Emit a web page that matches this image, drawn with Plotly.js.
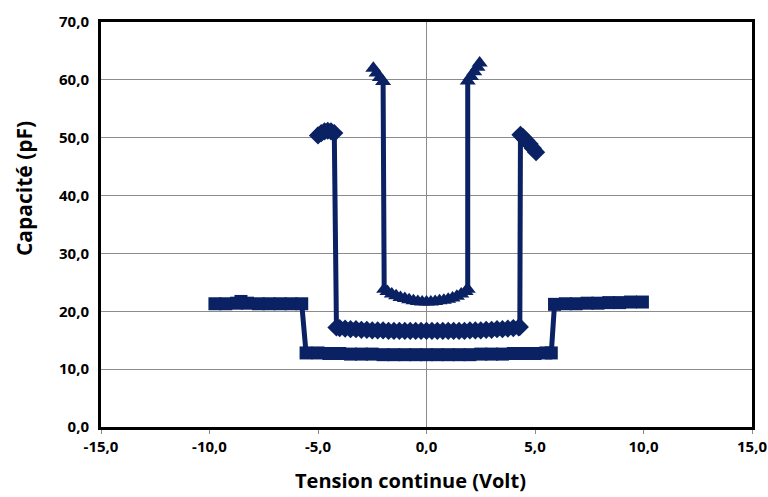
<!DOCTYPE html>
<html>
<head>
<meta charset="utf-8">
<script src="https://cdn.plot.ly/plotly-3.0.1.min.js"></script>
<style>html,body{margin:0;padding:0;background:#fff;}#chart{width:768px;height:497px;}</style>
</head>
<body>
<div id="chart"></div>
<script>
// Series 1 (squares): ±10 V sweep
const sqX = [-9.75, -9.25, -8.75, -8.55, -8.25, -7.75, -7.25, -6.75, -6.25, -5.75,
             -5.55, -5.0, -4.5, -4.0, -3.5, -3.0, -2.5, -2.0, -1.5, -1.0, -0.5, 0.0,
             0.5, 1.0, 1.5, 2.0, 2.5, 3.0, 3.5, 4.0, 4.5, 5.0, 5.5, 5.75,
             5.9, 6.4, 6.9, 7.4, 7.9, 8.4, 8.9, 9.4, 9.95];
const sqY = [21.3, 21.3, 21.4, 21.7, 21.4, 21.3, 21.3, 21.3, 21.3, 21.3,
             12.8, 12.8, 12.7, 12.7, 12.6, 12.6, 12.6, 12.5, 12.5, 12.5, 12.5, 12.5,
             12.5, 12.5, 12.5, 12.5, 12.6, 12.6, 12.6, 12.7, 12.7, 12.7, 12.8, 12.8,
             21.2, 21.3, 21.3, 21.4, 21.4, 21.5, 21.5, 21.6, 21.6];

// Series 2 (diamonds): ±5 V sweep
const diX = [-5.0, -4.85, -4.7, -4.55, -4.4, -4.25,
             -4.15, -4.0, -3.75, -3.5, -3.25, -3.0, -2.75, -2.5, -2.25, -2.0, -1.75, -1.5, -1.25, -1.0, -0.75, -0.5, -0.25, 0.0,
             0.25, 0.5, 0.75, 1.0, 1.25, 1.5, 1.75, 2.0, 2.25, 2.5, 2.75, 3.0, 3.25, 3.5, 3.75, 4.0, 4.25, 4.3,
             4.33, 4.45, 4.6, 4.75, 4.9, 5.05];
const diY = [50.4, 50.8, 51.1, 51.2, 51.1, 50.8,
             17.2, 17.1, 17.0, 16.9, 16.9, 16.8, 16.8, 16.7, 16.7, 16.7, 16.6, 16.6, 16.6, 16.6, 16.6, 16.6, 16.6, 16.6,
             16.6, 16.6, 16.6, 16.6, 16.6, 16.6, 16.6, 16.7, 16.7, 16.7, 16.8, 16.8, 16.9, 16.9, 17.0, 17.1, 17.2, 17.3,
             50.5, 50.1, 49.5, 48.9, 48.2, 47.5];

// Series 3 (triangles): ±2.5 V sweep
const trX = [-2.45, -2.3, -2.15, -2.0,
             -1.95, -1.8, -1.6, -1.4, -1.2, -1.0, -0.8, -0.6, -0.4, -0.2, 0.0,
             0.2, 0.4, 0.6, 0.8, 1.0, 1.2, 1.4, 1.6, 1.8, 1.9,
             1.9, 2.05, 2.2, 2.35, 2.45];
const trY = [62.0, 61.2, 60.4, 59.7,
             23.8, 23.4, 23.0, 22.7, 22.4, 22.2, 22.0, 21.8, 21.7, 21.6, 21.6,
             21.6, 21.7, 21.8, 21.9, 22.1, 22.3, 22.6, 23.0, 23.4, 23.8,
             59.8, 60.6, 61.4, 62.2, 62.9];

// Tick labels
const xTickVals = [-15, -10, -5, 0, 5, 10, 15];
const xTickText = ['-15,0', '-10,0', '-5,0', '0,0', '5,0', '10,0', '15,0'];
const yTickVals = [0, 10, 20, 30, 40, 50, 60, 70];
const yTickText = ['0,0', '10,0', '20,0', '30,0', '40,0', '50,0', '60,0', '70,0'];

const xTitle = 'Tension continue (Volt)';
const yTitle = 'Capacité (pF)';

const navy = '#0a2163';
function tr(x, y, sym, size) {
  return {x: x, y: y, type: 'scatter', mode: 'lines+markers',
          line: {color: navy, width: 5},
          marker: {symbol: sym, size: size, color: navy, line: {width: 0}},
          hoverinfo: 'x+y', showlegend: false};
}
const data = [tr(sqX, sqY, 'square', 13), tr(diX, diY, 'diamond', 14), tr(trX, trY, 'triangle-up', 14)];

const fontFam = 'Open Sans, DejaVu Sans, sans-serif';
const layout = {
  width: 768, height: 497,
  margin: {l: 101, r: 16, t: 22, b: 70},
  paper_bgcolor: '#ffffff', plot_bgcolor: '#ffffff',
  font: {family: fontFam, color: '#000'},
  xaxis: {
    range: [-15, 15], tickmode: 'array', tickvals: xTickVals, ticktext: xTickText,
    showgrid: false, zeroline: true, zerolinecolor: '#8c8c8c', zerolinewidth: 1,
    showline: true, linecolor: '#000', linewidth: 3, mirror: true,
    ticks: 'outside', ticklen: 4, tickcolor: '#8c8c8c', tickwidth: 1,
    tickfont: {family: fontFam, size: 15, color: '#000', weight: 'bold'},
    fixedrange: true
  },
  yaxis: {
    range: [0, 70], tickmode: 'array', tickvals: yTickVals, ticktext: yTickText,
    showgrid: true, gridcolor: '#8c8c8c', gridwidth: 1, zeroline: false,
    showline: true, linecolor: '#000', linewidth: 3, mirror: true,
    ticks: '', ticklabelstandoff: 6,
    tickfont: {family: fontFam, size: 15, color: '#000', weight: 'bold'},
    fixedrange: true
  },
  annotations: [
    {text: '<b>' + xTitle + '</b>', xref: 'paper', yref: 'paper', x: 0.476, y: -0.133,
     xanchor: 'center', yanchor: 'middle', showarrow: false,
     font: {family: fontFam, size: 20, color: '#000'}},
    {text: '<b>' + yTitle + '</b>', xref: 'paper', yref: 'paper', x: -0.118, y: 0.588,
     xanchor: 'center', yanchor: 'middle', textangle: -90, showarrow: false,
     font: {family: fontFam, size: 21, color: '#000'}}
  ]
};
Plotly.newPlot('chart', data, layout, {displayModeBar: false, staticPlot: true});
</script>
</body>
</html>
